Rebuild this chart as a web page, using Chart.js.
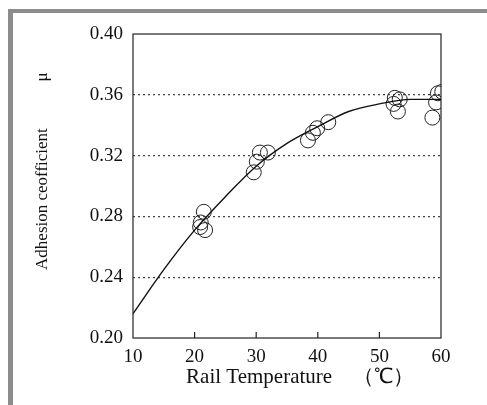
<!DOCTYPE html>
<html>
<head>
<meta charset="utf-8">
<script src="https://cdn.jsdelivr.net/npm/chart.js@4"></script>
<style>
  html, body { margin: 0; padding: 0; background: #fff; }
  #wrap { position: relative; width: 487px; height: 405px; }
  #edge {
    position: absolute; left: 8px; top: 9px; width: 477px; height: 400px;
    border-left: 5px solid #8c8c8c; border-top: 4px solid #8c8c8c;
  }
  #chart { position: absolute; left: 0; top: 0; }
</style>
</head>
<body>
<div id="wrap">
  <div id="edge"></div>
  <canvas id="chart" width="487" height="405"></canvas>
</div>
<script>
// measured points: rail temperature (°C) and adhesion coefficient
const tempPoints = [21.5, 21.0, 20.9, 21.7, 29.6, 30.1, 30.6, 31.9, 38.4, 39.2, 39.9, 41.7, 52.3, 52.5, 53.3, 53.0, 58.6, 59.2, 59.5, 60.2];
const muPoints   = [0.283, 0.276, 0.273, 0.271, 0.309, 0.316, 0.322, 0.322, 0.330, 0.335, 0.338, 0.342, 0.354, 0.358, 0.357, 0.349, 0.345, 0.355, 0.361, 0.362];

// fitted trend curve
const curveTemps = [10, 15, 20, 25, 30, 35, 40, 45, 50, 55, 60];
const curveMu    = [0.216, 0.245, 0.271, 0.293, 0.313, 0.328, 0.339, 0.349, 0.354, 0.357, 0.357];

const xTicks = [10, 20, 30, 40, 50, 60];
const yTicks = [0.20, 0.24, 0.28, 0.32, 0.36, 0.40];

const serif = '"Liberation Serif", "Times New Roman", serif';

// box around the plot and short inward ticks on the bottom axis
const frame = {
  id: 'frame',
  afterDraw(chart) {
    const { ctx, chartArea: a, scales } = chart;
    ctx.save();
    ctx.strokeStyle = '#222';
    ctx.lineWidth = 1.2;
    ctx.strokeRect(a.left, a.top, a.right - a.left, a.bottom - a.top);
    ctx.beginPath();
    xTicks.slice(1, -1).forEach(v => {
      const x = scales.x.getPixelForValue(v);
      ctx.moveTo(x, a.bottom);
      ctx.lineTo(x, a.bottom - 6);
    });
    ctx.stroke();
    ctx.restore();
  }
};

new Chart(document.getElementById('chart'), {
  type: 'scatter',
  data: {
    datasets: [
      {
        label: 'fit',
        type: 'line',
        data: curveTemps.map((t, i) => ({ x: t, y: curveMu[i] })),
        borderColor: '#111',
        borderWidth: 1.4,
        pointRadius: 0,
        cubicInterpolationMode: 'monotone',
        fill: false
      },
      {
        label: 'measured',
        data: tempPoints.map((t, i) => ({ x: t, y: muPoints[i] })),
        pointRadius: 7.5,
        pointBorderWidth: 1,
        pointBorderColor: '#222',
        pointBackgroundColor: 'rgba(0,0,0,0)'
      }
    ]
  },
  options: {
    responsive: false,
    animation: false,
    layout: { padding: { left: 0, top: 34, right: 46, bottom: 0 } },
    plugins: { legend: { display: false }, tooltip: { enabled: false } },
    scales: {
      x: {
        type: 'linear',
        min: 10, max: 60,
        afterBuildTicks: s => { s.ticks = xTicks.map(v => ({ value: v })); },
        afterFit: s => { s.height = 67; },
        border: { display: false },
        grid: { display: false },
        ticks: { color: '#111', padding: 0, font: { family: serif, size: 19 } },
        title: {
          display: true,
          text: '     Rail Temperature　（℃）',
          color: '#111',
          font: { family: serif, size: 21 },
          padding: { top: 0, bottom: 15 }
        }
      },
      y: {
        type: 'linear',
        min: 0.20, max: 0.40,
        afterBuildTicks: s => { s.ticks = yTicks.map(v => ({ value: v })); },
        afterFit: s => { s.width = 133; },
        border: { display: false, dash: [2, 3] },
        grid: {
          drawTicks: false,
          color: c => (c.tick.value > 0.201 && c.tick.value < 0.399) ? '#444' : 'rgba(0,0,0,0)',
          lineWidth: 1.2
        },
        ticks: {
          color: '#111', padding: 10,
          font: { family: serif, size: 19 },
          callback: v => v.toFixed(2)
        },
        title: {
          display: true,
          text: '       Adhesion ceofficient           μ',
          color: '#111',
          font: { family: serif, size: 17 },
          padding: { top: 32, bottom: 0 }
        }
      }
    }
  },
  plugins: [frame]
});
</script>
</body>
</html>
